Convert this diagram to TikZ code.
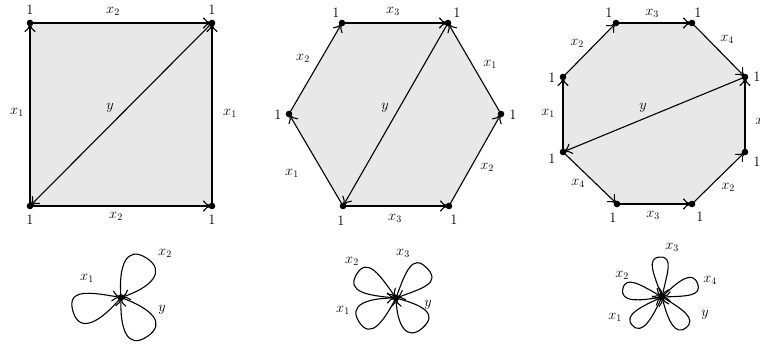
\documentclass[tikz,border=0pt]{standalone}
\usetikzlibrary{arrows.meta}
\definecolor{facegray}{RGB}{232,232,232}
\tikzset{
  edge/.style={line width=1.1pt, -{To[length=9pt,width=11pt]}},
  lbl/.style={font=\Large, inner sep=0pt},
  face/.style={fill=facegray},
  vdot/.style={fill=black},
}
% #1 centre, #2 tip direction, #3 out angle, #4 in angle, #5 extent, #6 leg control, #7 tip control
\newcommand\flpetal[7]{%
  \draw[edge] (#1) .. controls +({-(#3)}:#6) and +({-(#2+90)}:#7) .. +({-(#2)}:#5)
     .. controls +({-(#2-90)}:#7) and +({-(#4)}:#6) .. (#1);}
\begin{document}
\begin{tikzpicture}[x=1pt,y=-1pt]
\useasboundingbox (0,0) rectangle (760,348);
% ---------- square ----------
\coordinate (s1) at (30,206);
\coordinate (s2) at (30,23);
\coordinate (s3) at (212,23);
\coordinate (s4) at (212,206);
\fill[face] (s1) -- (s2) -- (s3) -- (s4) -- cycle;
\draw[edge] (s1) -- (s2);
\draw[edge] (s2) -- (s3);
\draw[edge] (s4) -- (s3);
\draw[edge] (s1) -- (s4);
\draw[edge] (s3) -- (s1);
\foreach \p in {s1,s2,s3,s4} \fill[vdot] (\p) circle (3.3pt);
\node[lbl] (sa) at (30,10) {$1$};
\node[lbl] (sb) at (212,10) {$1$};
\node[lbl] (sc) at (30,220) {$1$};
\node[lbl] (sd) at (212,220) {$1$};
\node[lbl] (sx2t) at (113,11) {$x_2$};
\node[lbl] (sx2b) at (116,216) {$x_2$};
\node[lbl] (sx1l) at (17,112) {$x_1$};
\node[lbl] (sx1r) at (230,113) {$x_1$};
\node[lbl] (sy) at (110,108) {$y$};
% ---------- hexagon ----------
\coordinate (h1) at (289,114);
\coordinate (h2) at (342,23);
\coordinate (h3) at (448,23);
\coordinate (h4) at (501,114);
\coordinate (h5) at (449,206);
\coordinate (h6) at (343,206);
\fill[face] (h1) -- (h2) -- (h3) -- (h4) -- (h5) -- (h6) -- cycle;
\draw[edge] (h6) -- (h1);
\draw[edge] (h1) -- (h2);
\draw[edge] (h2) -- (h3);
\draw[edge] (h4) -- (h3);
\draw[edge] (h5) -- (h4);
\draw[edge] (h6) -- (h5);
\draw[edge] (h3) -- (h6);
\foreach \p in {h1,h2,h3,h4,h5,h6} \fill[vdot] (\p) circle (3.3pt);
\node[lbl] (ha) at (278,115) {$1$};
\node[lbl] (hb) at (336,13) {$1$};
\node[lbl] (hc) at (457,13) {$1$};
\node[lbl] (hd) at (513,115) {$1$};
\node[lbl] (he) at (454,220) {$1$};
\node[lbl] (hf) at (341,221) {$1$};
\node[lbl] (hx3t) at (393,11) {$x_3$};
\node[lbl] (hx2l) at (303,58) {$x_2$};
\node[lbl] (hx1r) at (490,64) {$x_1$};
\node[lbl] (hx1l) at (292,173) {$x_1$};
\node[lbl] (hx2r) at (487,167) {$x_2$};
\node[lbl] (hx3b) at (395,218) {$x_3$};
\node[lbl] (hy) at (385,108) {$y$};
% ---------- octagon ----------
\coordinate (o1) at (563,77);
\coordinate (o2) at (616,23);
\coordinate (o3) at (692,23);
\coordinate (o4) at (745,77);
\coordinate (o5) at (745,152);
\coordinate (o6) at (692,204);
\coordinate (o7) at (617,204);
\coordinate (o8) at (563,152);
\fill[face] (o1) -- (o2) -- (o3) -- (o4) -- (o5) -- (o6) -- (o7) -- (o8) -- cycle;
\draw[edge] (o8) -- (o1);
\draw[edge] (o1) -- (o2);
\draw[edge] (o2) -- (o3);
\draw[edge] (o3) -- (o4);
\draw[edge] (o5) -- (o4);
\draw[edge] (o6) -- (o5);
\draw[edge] (o7) -- (o6);
\draw[edge] (o8) -- (o7);
\draw[edge] (o4) -- (o8);
\foreach \p in {o1,o2,o3,o4,o5,o6,o7,o8} \fill[vdot] (\p) circle (3.3pt);
\node[lbl] (oa) at (552,78) {$1$};
\node[lbl] (ob) at (609,13) {$1$};
\node[lbl] (oc) at (698,13) {$1$};
\node[lbl] (od) at (757,77) {$1$};
\node[lbl] (oe) at (757,162) {$1$};
\node[lbl] (of) at (700,217) {$1$};
\node[lbl] (og) at (613,218) {$1$};
\node[lbl] (oh) at (552,159) {$1$};
\node[lbl] (ox3t) at (652,13) {$x_3$};
\node[lbl] (ox2l) at (577,43) {$x_2$};
\node[lbl] (ox4r) at (727,39) {$x_4$};
\node[lbl] (ox1l) at (548,113) {$x_1$};
\node[lbl] (ox1r) at (762,122) {$x_1$};
\node[lbl] (ox2r) at (728,187) {$x_2$};
\node[lbl] (ox3b) at (653,215) {$x_3$};
\node[lbl] (ox4l) at (578,183) {$x_4$};
\node[lbl] (oy) at (643,108) {$y$};
% ---------- bouquet 1 ----------
\coordinate (b1) at (121,297.5);
\flpetal{b1}{196}{230}{170}{50}{32}{24}
\flpetal{b1}{57}{95}{18}{47}{32}{24}
\flpetal{b1}{304}{340}{268}{47}{32}{24}
\fill[vdot] (b1) circle (3.3pt);
\node[lbl] (b1x1) at (87,278) {$x_1$};
\node[lbl] (b1x2) at (165,253) {$x_2$};
\node[lbl] (b1y) at (162,310) {$y$};
% ---------- bouquet 2 ----------
\coordinate (b2) at (396,298);
\flpetal{b2}{44}{70}{20}{43}{28}{21}
\flpetal{b2}{149}{175}{125}{46}{28}{21}
\flpetal{b2}{213}{242}{180}{44}{28}{21}
\flpetal{b2}{312}{345}{272}{40}{28}{21}
\fill[vdot] (b2) circle (3.3pt);
\node[lbl] (b2x2) at (352,261) {$x_2$};
\node[lbl] (b2x3) at (403,253) {$x_3$};
\node[lbl] (b2x1) at (343,310) {$x_1$};
\node[lbl] (b2y) at (428,305) {$y$};
% ---------- bouquet 3 ----------
\coordinate (b3) at (662,297);
\flpetal{b3}{21}{45}{2}{38}{24}{14}
\flpetal{b3}{93}{110}{78}{40}{24}{14}
\flpetal{b3}{168}{190}{150}{40}{24}{14}
\flpetal{b3}{224}{245}{205}{41}{24}{14}
\flpetal{b3}{308}{330}{284}{39}{24}{14}
\fill[vdot] (b3) circle (3.3pt);
\node[lbl] (b3x3) at (672,247) {$x_3$};
\node[lbl] (b3x2) at (622,275) {$x_2$};
\node[lbl] (b3x4) at (710,280) {$x_4$};
\node[lbl] (b3x1) at (615,317) {$x_1$};
\node[lbl] (b3y) at (705,315) {$y$};
\end{tikzpicture}
\end{document}
